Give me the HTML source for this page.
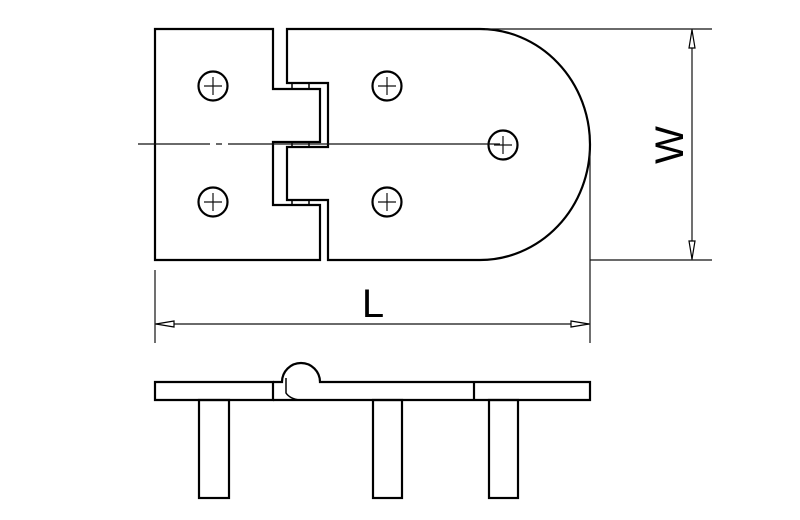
<!DOCTYPE html>
<html><head><style>body{margin:0;background:#fff}svg{display:block}</style></head><body>
<svg width="800" height="520" viewBox="0 0 800 520" xmlns="http://www.w3.org/2000/svg">
<g fill="none" stroke="#000" stroke-width="2.2">
<path d="M155,29 H273 V89 H320 V142 H273 V205 H320 V260 H155 Z"/>
<path d="M287,29 H480 A110,115.5 0 0 1 480,260 H328 V200 H287 V147 H328 V83 H287 Z"/>
<path d="M292,83 V89 M309,83 V89 M292,142 V147 M309,142 V147 M292,200 V205 M309,200 V205" stroke-width="1.5"/>
<circle cx="213" cy="86" r="14.5"/><circle cx="213" cy="202" r="14.5"/>
<circle cx="387" cy="86" r="14.5"/><circle cx="387" cy="202" r="14.5"/>
<circle cx="503" cy="145" r="14.5"/>
</g>
<g stroke="#111" stroke-width="1.2">
<path d="M213,77V95M204,86H222M213,193V211M204,202H222M387,77V95M378,86H396M387,193V211M378,202H396M503,136V154M494,145H512"/>
<path d="M138,144H210M216,144H222M228,144H500"/>
<path d="M485,29H712M590,260H712M692,29V260M155,270V343M590,150V343M155,324H590"/>
</g>
<g fill="#fff" stroke="#000" stroke-width="1.2">
<path d="M692,30 L689,48 L695,48 Z"/><path d="M692,259 L689,241 L695,241 Z"/>
<path d="M156,324 L174,321 L174,327 Z"/><path d="M589,324 L571,321 L571,327 Z"/>
</g>
<g fill="none" stroke="#000" stroke-width="2.2">
<path d="M155,382 H273 V400 H155 Z"/>
<path d="M273,382 H282 A19,19 0 0 1 320,382 H590 V400 H273"/>
<path d="M474,382 V400"/>
<path d="M286,378 V393 Q290,399 300,400" stroke-width="1.5"/>
<rect x="199" y="400" width="30" height="98"/>
<rect x="373" y="400" width="29" height="98"/>
<rect x="489" y="400" width="29" height="98"/>
</g>
<text x="373" y="317" font-family="Liberation Sans, sans-serif" font-size="40" text-anchor="middle">L</text>
<text transform="translate(683,145) rotate(-90)" font-family="Liberation Sans, sans-serif" font-size="40" text-anchor="middle">W</text>
</svg>
</body></html>
